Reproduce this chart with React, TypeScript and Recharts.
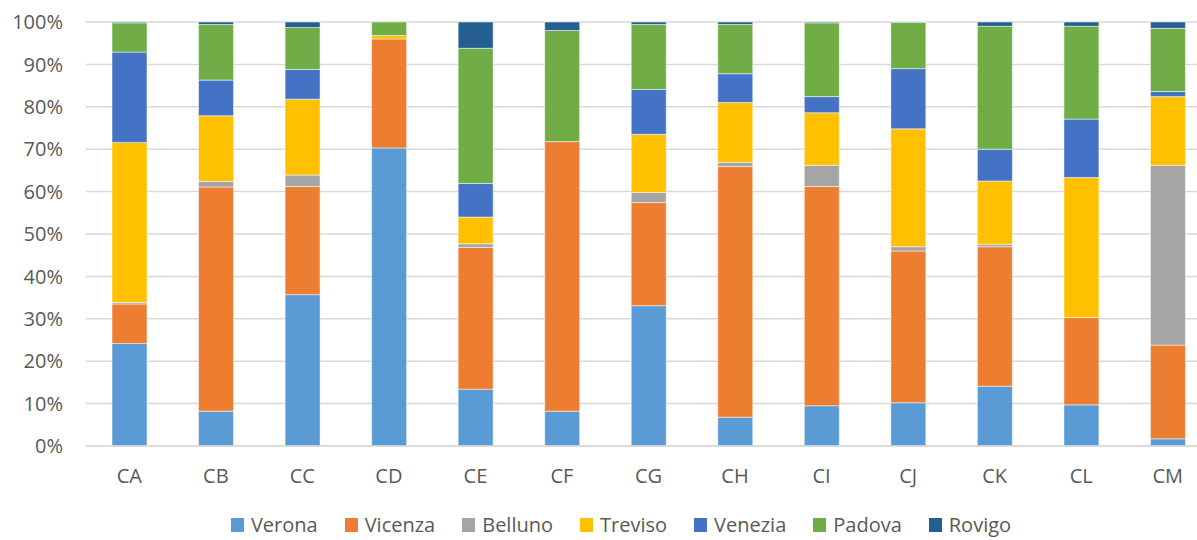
import React from "react";
import { BarChart, Bar, XAxis, YAxis, CartesianGrid } from "recharts";

const categories = ["CA", "CB", "CC", "CD", "CE", "CF", "CG", "CH", "CI", "CJ", "CK", "CL", "CM"];

// shares in % per province
const verona = [24.2, 8.2, 35.7, 70.3, 13.4, 8.2, 33.1, 6.8, 9.5, 10.2, 14.1, 9.7, 1.7];
const vicenza = [9.3, 52.9, 25.5, 25.7, 33.4, 63.6, 24.3, 59.1, 51.7, 35.8, 32.9, 20.6, 22.1];
const belluno = [0.4, 1.3, 2.7, 0, 0.9, 0, 2.4, 1.0, 5.0, 1.0, 0.6, 0, 42.4];
const treviso = [37.7, 15.5, 17.9, 0.8, 6.3, 0, 13.7, 14.1, 12.4, 27.8, 14.9, 33.0, 16.2];
const venezia = [21.3, 8.4, 7.0, 0, 7.9, 0, 10.6, 6.8, 3.8, 14.2, 7.5, 13.8, 1.2];
const padova = [6.9, 13.1, 9.9, 3.2, 31.9, 26.2, 15.3, 11.6, 17.4, 10.9, 29.0, 21.9, 14.9];
const rovigo = [0.2, 0.6, 1.3, 0, 6.2, 2.0, 0.6, 0.6, 0.2, 0.1, 1.0, 1.0, 1.5];

const yTicks = [0, 10, 20, 30, 40, 50, 60, 70, 80, 90, 100];

const series = [
  { key: "Verona", values: verona, color: "#5B9BD5" },
  { key: "Vicenza", values: vicenza, color: "#ED7D31" },
  { key: "Belluno", values: belluno, color: "#A5A5A5" },
  { key: "Treviso", values: treviso, color: "#FFC000" },
  { key: "Venezia", values: venezia, color: "#4472C4" },
  { key: "Padova", values: padova, color: "#70AD47" },
  { key: "Rovigo", values: rovigo, color: "#255E91" },
];

const data = categories.map((name, i) => {
  const row: Record<string, string | number> = { name };
  series.forEach((s) => (row[s.key] = s.values[i]));
  return row;
});

const FONT = "'Open Sans', sans-serif";
const TEXT = "#595959";
const GRID = "#d9d9d9";

function LegendRow() {
  return (
    <div
      style={{
        position: "absolute", top: 515, left: 0, width: 1242,
        display: "flex", justifyContent: "center",
        fontFamily: FONT, fontSize: 20, lineHeight: "20px", color: TEXT,
      }}
    >
      {series.map((s, i) => (
        <div key={s.key} style={{ display: "flex", alignItems: "center", marginRight: i < series.length - 1 ? 27 : 0 }}>
          <span style={{ width: 13, height: 14, background: s.color, marginRight: 7, display: "inline-block" }} />
          <span>{s.key}</span>
        </div>
      ))}
    </div>
  );
}

export default function App() {
  return (
    <div style={{ position: "absolute", left: 0, top: 0, width: 1197, height: 540, overflow: "hidden", background: "#fff" }}>
      <BarChart
        width={1240}
        height={540}
        data={data}
        stackOffset="expand"
        margin={{ top: 22, right: 29, bottom: 0, left: 0 }}
      >
        <CartesianGrid vertical={false} stroke={GRID} strokeWidth={1.5} />
        <XAxis
          dataKey="name"
          height={94}
          tickSize={0}
          tickMargin={23}
          axisLine={{ stroke: GRID, strokeWidth: 1.5 }}
          tick={{ fill: TEXT, fontSize: 20, fontFamily: FONT }}
        />
        <YAxis
          width={86}
          domain={[0, 1]}
          ticks={yTicks.map((t) => t / 100)}
          tickFormatter={(v: number) => `${Math.round(v * 100)}%`}
          tickSize={0}
          tickMargin={23}
          axisLine={false}
          tick={{ fill: TEXT, fontSize: 20, fontFamily: FONT }}
        />
        {series.map((s) => (
          <Bar
            key={s.key}
            dataKey={s.key}
            stackId="a"
            fill={s.color}
            stroke="#ffffff"
            strokeWidth={0.5}
            barSize={35}
            isAnimationActive={false}
          />
        ))}
      </BarChart>
      <LegendRow />
    </div>
  );
}
